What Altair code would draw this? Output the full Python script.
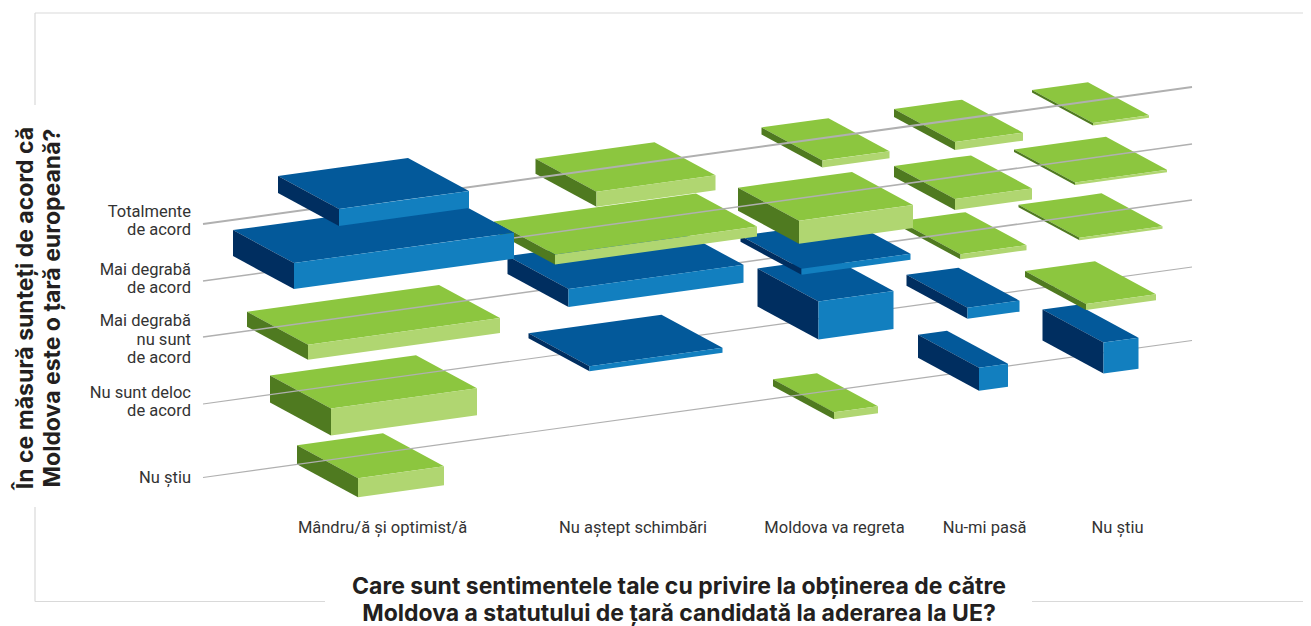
import altair as alt
import pandas as pd

# ---- values ----
rows = ["Totalmente de acord", "Mai degrabă de acord", "Mai degrabă nu sunt de acord",
        "Nu sunt deloc de acord", "Nu știu"]
columns = ["Mândru/ă și optimist/ă", "Nu aștept schimbări", "Moldova va regreta", "Nu-mi pasă", "Nu știu"]

# position of each row line where it starts, per row
row_start = [224, 281, 337, 404, 477.5]
row_widths = [2.0, 1.5, 1.5, 1.2, 1.2]
line_from, line_to = 203, 1192
line_slope = -0.1385

col_centers = [373.5, 625.5, 825.5, 963, 1090.5]
center_exception = {(0, 3): 958.5, (4, 0): 370.5}
green_drop = 1.5

# width of each block (rows x columns), None = no block
w_tot = [130, 119, 67, 68, 56]
w_mda = [220, 202, 114, 77, 92]
w_mdn = [192, 175, 109, 66, 83]
w_nsd = [146, 133, 75, 52, 70]
w_nst = [86, None, 44, 29, 35]

# signed height of each block: positive rises above the row line, negative hangs below it
v_tot = [17, -15, -7, -8, -2.5]
v_mda = [26, -10, -23, -11, -2.5]
v_mdn = [-15, 18, 6, -5, -2.5]
v_nsd = [-27, 5, 38, 11, -6]
v_nst = [-19, None, -7, 23, 31]

depth_x, depth_y = 61, 33

widths = [w_tot, w_mda, w_mdn, w_nsd, w_nst]
values = [v_tot, v_mda, v_mdn, v_nsd, v_nst]

# blocks painted over their own row line although they hang below it
over_line = {(3, 4)}

y_labels = [("Totalmente", 217), ("de acord", 235),
            ("Mai degrabă", 275), ("de acord", 293),
            ("Mai degrabă", 326), ("nu sunt", 345), ("de acord", 363),
            ("Nu sunt deloc", 398), ("de acord", 416),
            ("Nu știu", 483)]
x_labels = [382.5, 633, 834.5, 984.5, 1117.5]
x_label_y = 533
x_title = [("Care sunt sentimentele tale cu privire la obținerea de către", 594),
           ("Moldova a statutului de țară candidată la aderarea la UE?", 620.5)]
y_title = [("În ce măsură sunteți de acord că", 33), ("Moldova este o țară europeană?", 60)]
frame = [(35, 13, 1303, 13), (35, 13, 35, 105), (35, 507, 35, 601.5),
         (35, 601.5, 325, 601.5), (1032, 601.5, 1303, 601.5)]

FONT_LABEL = "Roboto"
FONT_TITLE = "Inter"

faces = ["blue_top", "blue_front", "blue_side", "green_top", "green_front", "green_side"]
face_colors = ["#03599a", "#127fbf", "#002e60", "#8cc63f", "#b0d671", "#4f7a20"]

xs = alt.Scale(domain=[8, 1303], nice=False, zero=False)
ys = alt.Scale(domain=[626, 8], nice=False, zero=False)
X = alt.X("x:Q", scale=xs, axis=None)
Y = alt.Y("y:Q", scale=ys, axis=None, stack=None)


def row_line(r, x):
    return row_start[r] + line_slope * (x - line_from)


def edge(p, q, x):
    t = 0 if q[0] == p[0] else (x - p[0]) / (q[0] - p[0])
    return p[1] + t * (q[1] - p[1])


def block_polys(r, c):
    w, v = widths[r][c], values[r][c]
    cx = center_exception.get((r, c), col_centers[c])
    cy = row_line(r, cx) - max(v, 0) + (green_drop if v < 0 else 0)
    h = abs(v)
    wx, wy = w / 2, line_slope * w / 2
    dx, dy = depth_x / 2, depth_y / 2
    A = (cx - wx - dx, cy - wy - dy)
    B = (cx + wx - dx, cy + wy - dy)
    C = (cx + wx + dx, cy + wy + dy)
    D = (cx - wx + dx, cy - wy + dy)
    hue = "blue" if v > 0 else "green"
    out = []
    bid = f"{r}-{c}"
    # top face, as upper and lower edge over the sorted corners
    for x in sorted([A[0], B[0], C[0], D[0]]):
        up = edge(A, B, x) if x <= B[0] else edge(B, C, x)
        lo = edge(A, D, x) if x <= D[0] else edge(D, C, x)
        out.append(dict(id=bid + "t", face=hue + "_top", x=x, y=up, y2=lo))
    out.append(dict(id=bid + "s", face=hue + "_side", x=A[0], y=A[1], y2=A[1] + h))
    out.append(dict(id=bid + "s", face=hue + "_side", x=D[0], y=D[1], y2=D[1] + h))
    out.append(dict(id=bid + "f", face=hue + "_front", x=D[0], y=D[1], y2=D[1] + h))
    out.append(dict(id=bid + "f", face=hue + "_front", x=C[0], y=C[1], y2=C[1] + h))
    return out


def area_layer(polys):
    return alt.Chart(pd.DataFrame(polys)).mark_area(orient="vertical", interpolate="linear").encode(
        x=X, y=Y, y2=alt.Y2("y2:Q"),
        color=alt.Color("face:N", scale=alt.Scale(domain=faces, range=face_colors), legend=None),
        detail="id:N",
    )


layers = []

frame_df = pd.DataFrame(frame, columns=["x", "y", "x2", "y2"])
layers.append(alt.Chart(frame_df).mark_rule(color="#d9d9d9", strokeWidth=1.2).encode(
    x=X, y=Y, x2=alt.X2("x2:Q"), y2=alt.Y2("y2:Q")))

# painted from the front row to the back row
for r in reversed(range(len(rows))):
    under, over = [], []
    for c in range(len(columns)):
        if widths[r][c] is None:
            continue
        polys = block_polys(r, c)
        if values[r][c] > 0 or (r, c) in over_line:
            over += polys
        else:
            under += polys
    if under:
        layers.append(area_layer(under))
    line_df = pd.DataFrame({"x": [line_from, line_to],
                            "y": [row_line(r, line_from), row_line(r, line_to)]})
    layers.append(alt.Chart(line_df).mark_line(color="#b0b0b0", strokeWidth=row_widths[r]).encode(x=X, y=Y))
    if over:
        layers.append(area_layer(over))

ylab_df = pd.DataFrame(y_labels, columns=["text", "y"]).assign(x=191)
layers.append(alt.Chart(ylab_df).mark_text(font=FONT_LABEL, fontSize=16.5, align="right", baseline="alphabetic",
                                           color="#333333").encode(x=X, y=Y, text="text:N"))
xlab_df = pd.DataFrame({"text": columns, "x": x_labels, "y": x_label_y})
layers.append(alt.Chart(xlab_df).mark_text(font=FONT_LABEL, fontSize=16.5, align="center", baseline="alphabetic",
                                           color="#333333").encode(x=X, y=Y, text="text:N"))
xt_df = pd.DataFrame(x_title, columns=["text", "y"]).assign(x=679)
layers.append(alt.Chart(xt_df).mark_text(font=FONT_TITLE, fontSize=23, fontWeight="bold", align="center",
                                         baseline="alphabetic", color="#231f20").encode(x=X, y=Y, text="text:N"))
yt_df = pd.DataFrame(y_title, columns=["text", "x"]).assign(y=308)
layers.append(alt.Chart(yt_df).mark_text(font=FONT_TITLE, fontSize=23, fontWeight="bold", align="center",
                                         baseline="alphabetic", angle=270, color="#231f20").encode(x=X, y=Y, text="text:N"))

chart = alt.layer(*layers).properties(
    width=1295, height=618, padding=0,
    autosize=alt.AutoSizeParams(type="none", contains="content"),
    background="white",
).configure_view(stroke=None)

chart.save("out.html", embed_options={"renderer": "svg", "actions": False})
